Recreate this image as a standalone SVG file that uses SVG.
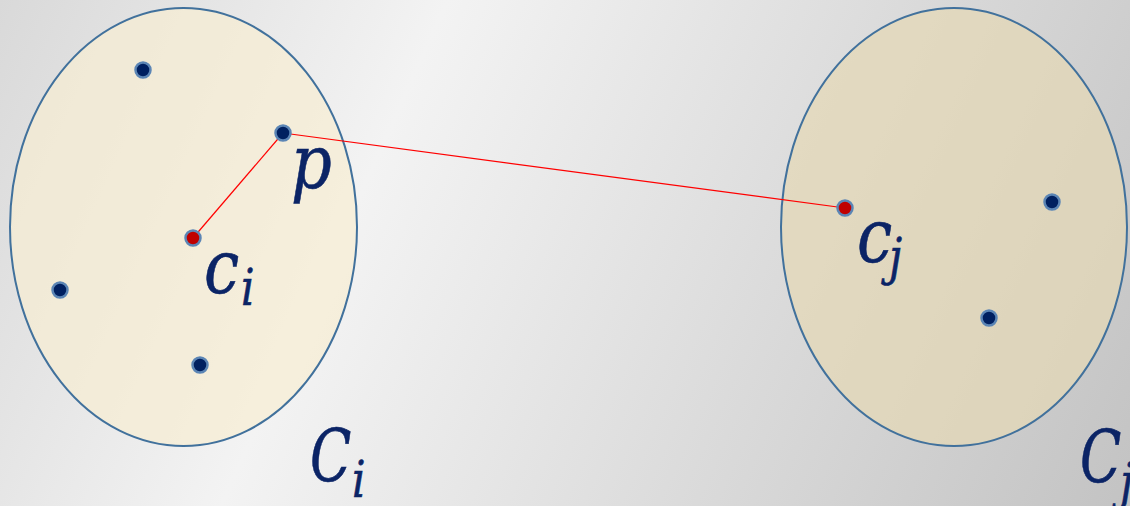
<svg xmlns="http://www.w3.org/2000/svg" width="1130" height="506" viewBox="0 0 1130 506">
<defs>
<linearGradient id="bg" gradientUnits="userSpaceOnUse" x1="0" y1="0" x2="1130" y2="506">
<stop offset="0" stop-color="#d9d9d9"/>
<stop offset="0.33" stop-color="#f3f3f3"/>
<stop offset="1" stop-color="#c3c3c3"/>
</linearGradient>
<style>
.cl{fill-opacity:0.72;stroke:#41719c;stroke-width:2}
.pt{fill:#002060;stroke:#5b85b5;stroke-width:2.5}
.ct{fill:#c00000;stroke:#5b85b5;stroke-width:2.5}
.ln{stroke:#ff0000;stroke-width:1.2;fill:none}
.m{font-family:"DejaVu Serif",serif;font-style:italic;fill:#0b2466;stroke:#0b2466;stroke-width:0.6}
</style>
</defs>
<rect width="1130" height="506" fill="url(#bg)"/>
<g id="cluster-i"><ellipse class="cl" fill="#f6edd2" cx="183.5" cy="227" rx="173.5" ry="219"/></g>
<g id="cluster-j"><ellipse class="cl" fill="#e4d8b6" cx="954" cy="227" rx="173" ry="219"/></g>
<g id="connectors">
<line class="ln" x1="193" y1="238" x2="283" y2="133"/>
<line class="ln" x1="283" y1="133" x2="845" y2="208"/>
</g>
<g id="points">
<circle class="pt" cx="143" cy="70" r="7.5"/>
<circle class="pt" cx="60" cy="290" r="7.5"/>
<circle class="pt" cx="200" cy="365" r="7.5"/>
<circle class="pt" cx="1052" cy="202" r="7.5"/>
<circle class="pt" cx="989" cy="318" r="7.5"/>
</g>
<g id="p"><circle class="pt" cx="283" cy="133" r="7.5"/>
<text class="m" transform="translate(291,188) scale(0.85,1)" font-size="75">p</text></g>
<g id="ci"><circle class="ct" cx="193" cy="238" r="7.5"/>
<text class="m" transform="translate(204,293) scale(0.85,1)" font-size="74">c</text>
<text class="m" transform="translate(241,305) scale(0.85,1)" font-size="50">i</text></g>
<g id="cj"><circle class="ct" cx="845" cy="208" r="7.5"/>
<text class="m" transform="translate(857,262) scale(0.85,1)" font-size="74">c</text>
<text class="m" transform="translate(889,274) scale(0.85,1)" font-size="50">j</text></g>
<g id="Ci"><text class="m" transform="translate(310,482) scale(0.75,1)" font-size="72">C</text>
<text class="m" transform="translate(352,497) scale(0.85,1)" font-size="50">i</text></g>
<g id="Cj"><text class="m" transform="translate(1080,483) scale(0.75,1)" font-size="72">C</text>
<text class="m" transform="translate(1120,499) scale(0.85,1)" font-size="50">j</text></g>
</svg>
